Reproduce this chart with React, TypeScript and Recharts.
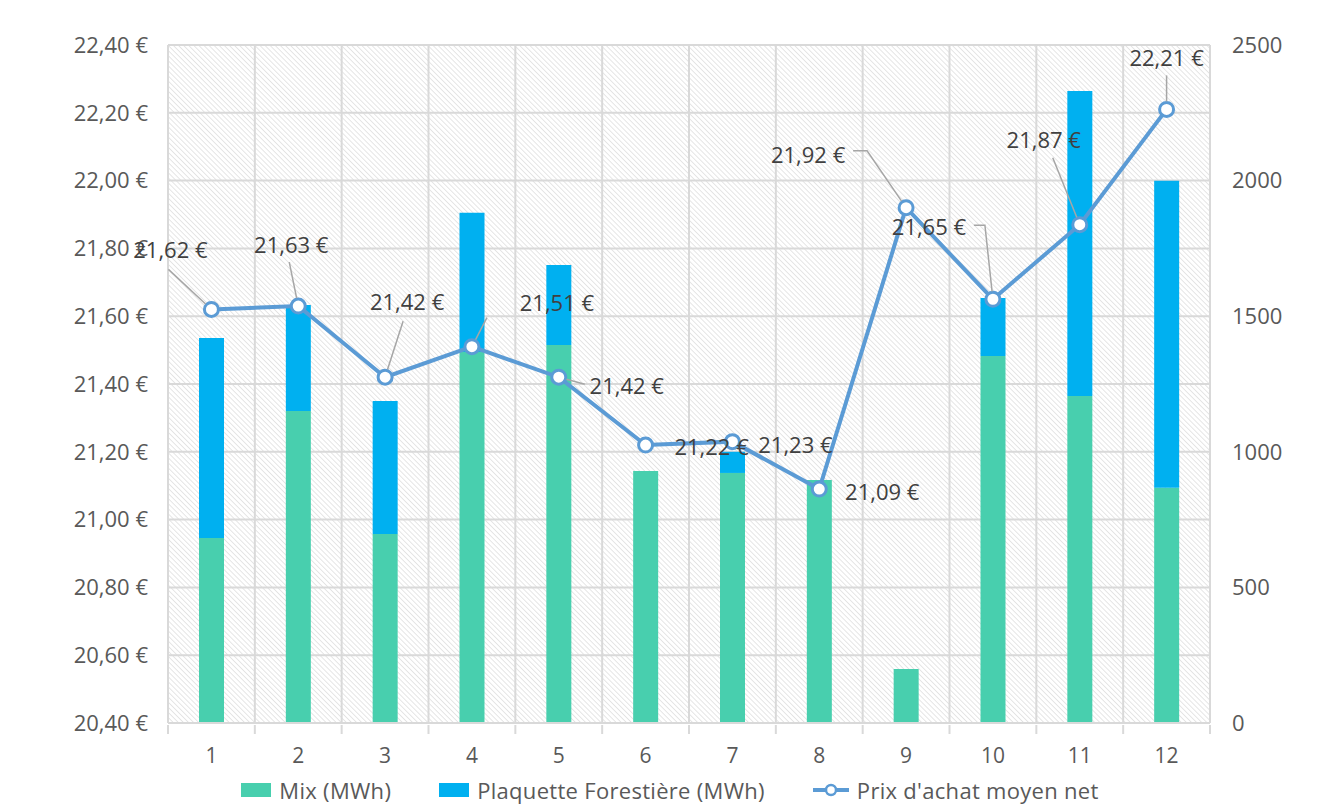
import React from "react";
import {
  ComposedChart,
  Bar,
  Line,
  XAxis,
  YAxis,
  CartesianGrid,
  Legend,
  LabelList,
} from "recharts";

const months = ["1", "2", "3", "4", "5", "6", "7", "8", "9", "10", "11", "12"];
const mix = [682, 1150, 697, 1368, 1394, 929, 922, 896, 199, 1353, 1206, 867];
const plaquette = [738, 391, 490, 513, 295, 0, 78, 0, 0, 214, 1124, 1132];
const prix = [21.62, 21.63, 21.42, 21.51, 21.42, 21.22, 21.23, 21.09, 21.92, 21.65, 21.87, 22.21];

const leftTicks = [20.4, 20.6, 20.8, 21.0, 21.2, 21.4, 21.6, 21.8, 22.0, 22.2, 22.4];
const rightTicks = [0, 500, 1000, 1500, 2000, 2500];

const data = months.map((m, i) => ({
  month: m,
  mix: mix[i],
  plaquette: plaquette[i],
  prix: prix[i],
}));

// label placement: text centre relative to the point, then leader points relative to text centre
const labelPos: [number, number][] = [
  [-41, -60], [-7, -62], [22, -76], [85, -45], [68, 8], [66, 1],
  [63, 2], [63, 2], [-98, -54], [-64, -73], [-36, -86], [0, -52],
];
const leaders: [number, number][][] = [
  [[-2, 20]], [[-2, 18]], [[-4, 20]], [[-70, 16]], [[-42, -1]], [],
  [], [], [[45, -3], [59, -3]], [[45, -1], [56, -1]], [[9, 19]], [[0, 18]],
];

const GREEN = "#48CFAE";
const BLUE = "#00B0F0";
const LINE = "#5B9BD5";
const GRID = "#d9d9d9";
const TEXT = "#595959";
const FONT = "'Open Sans', sans-serif";

const euro = (v: number) => v.toFixed(2).replace(".", ",") + " €";

const PriceLabel = (props: any) => {
  const { x, y, value, index } = props;
  const [dx, dy] = labelPos[index];
  const cx = x + dx;
  const cy = y + dy;
  const pts = leaders[index].map(([a, b]) => [cx + a, cy + b]);
  let path = "";
  if (pts.length) {
    const last = pts[pts.length - 1];
    const vx = x - last[0];
    const vy = y - last[1];
    const len = Math.sqrt(vx * vx + vy * vy) || 1;
    const ex = x - (vx / len) * 8;
    const ey = y - (vy / len) * 8;
    path = "M" + pts.map((p) => p[0] + "," + p[1]).join(" L") + ` L${ex},${ey}`;
  }
  return (
    <g>
      {path && <path d={path} stroke="#a6a6a6" strokeWidth={1.5} fill="none" />}
      <text
        x={cx}
        y={cy}
        textAnchor="middle"
        dominantBaseline="central"
        fill="#404040"
        fontSize={22}
        fontFamily={FONT}
      >
        {euro(value)}
      </text>
    </g>
  );
};

const MonthTick = (props: any) => {
  const { x, y, payload, index } = props;
  const half = 1042 / 12 / 2;
  return (
    <g>
      <line x1={x - half} y1={y} x2={x - half} y2={y + 9} stroke={GRID} strokeWidth={2} />
      {index === months.length - 1 && (
        <line x1={x + half} y1={y} x2={x + half} y2={y + 9} stroke={GRID} strokeWidth={2} />
      )}
      <text
        x={x}
        y={y + 30}
        textAnchor="middle"
        dominantBaseline="central"
        fill={TEXT}
        fontSize={21}
        fontFamily={FONT}
      >
        {payload.value}
      </text>
    </g>
  );
};

const LegendContent = () => {
  const item: React.CSSProperties = {
    display: "flex",
    alignItems: "center",
    gap: 8,
    color: TEXT,
    fontSize: 22,
    letterSpacing: 0.3,
    fontFamily: FONT,
  };
  return (
    <div
      style={{
        height: 40,
        display: "flex",
        justifyContent: "center",
        alignItems: "center",
        gap: 48,
        position: "relative",
        top: 4,
        left: 6,
      }}
    >
      <div style={item}>
        <span style={{ width: 30, height: 14, background: GREEN, display: "inline-block" }} />
        Mix (MWh)
      </div>
      <div style={item}>
        <span style={{ width: 30, height: 14, background: BLUE, display: "inline-block" }} />
        Plaquette Forestière (MWh)
      </div>
      <div style={item}>
        <svg width={36} height={16}>
          <line x1={0} y1={8} x2={36} y2={8} stroke={LINE} strokeWidth={4} />
          <circle cx={18} cy={8} r={5} fill="#fff" stroke={LINE} strokeWidth={2.5} />
        </svg>
        Prix d'achat moyen net
      </div>
    </div>
  );
};

export default function App() {
  return (
    <div
      style={{
        width: 1318,
        height: 808,
        border: "2px solid #d0d0d0",
        margin: "-2px 0 0 -2px",
        background: "#fff",
      }}
    >
      <ComposedChart
        width={1318}
        height={798}
        data={data}
        margin={{ top: 37, right: 16, bottom: 0, left: 10 }}
        barCategoryGap={0}
      >
        <defs>
          <pattern
            id="hatch"
            width={3.6}
            height={3.6}
            patternUnits="userSpaceOnUse"
            patternTransform="rotate(-45)"
          >
            <rect width={3.6} height={3.6} fill="#fff" />
            <line x1={0} y1={0} x2={0} y2={3.6} stroke="#d6d6d6" strokeWidth={1.2} />
          </pattern>
        </defs>
        <CartesianGrid
          yAxisId="left"
          stroke={GRID}
          strokeWidth={2}
          fill="url(#hatch)"
          fillOpacity={1}
          verticalCoordinatesGenerator={({ offset }: any) =>
            Array.from({ length: 13 }, (_, i) => offset.left + (i * offset.width) / 12)
          }
        />
        <XAxis
          dataKey="month"
          height={43}
          axisLine={{ stroke: GRID, strokeWidth: 2 }}
          tickLine={false}
          tickSize={0}
          tick={<MonthTick />}
          interval={0}
        />
        <YAxis
          yAxisId="left"
          width={150}
          domain={[20.4, 22.4]}
          ticks={leftTicks}
          tickFormatter={euro}
          axisLine={false}
          tickLine={false}
          tickSize={0}
          tickMargin={20}
          tick={{ fill: TEXT, fontSize: 22, fontFamily: FONT }}
          allowDataOverflow
        />
        <YAxis
          yAxisId="right"
          orientation="right"
          width={100}
          domain={[0, 2500]}
          ticks={rightTicks}
          axisLine={false}
          tickLine={false}
          tickSize={0}
          tickMargin={22}
          tick={{ fill: TEXT, fontSize: 22, fontFamily: FONT, textAnchor: "start" }}
        />
        <Legend verticalAlign="bottom" content={<LegendContent />} />
        <Bar
          yAxisId="right"
          dataKey="mix"
          stackId="a"
          fill={GREEN}
          barSize={25}
          isAnimationActive={false}
          name="Mix (MWh)"
        />
        <Bar
          yAxisId="right"
          dataKey="plaquette"
          stackId="a"
          fill={BLUE}
          barSize={25}
          isAnimationActive={false}
          name="Plaquette Forestière (MWh)"
        />
        <Line
          yAxisId="left"
          dataKey="prix"
          stroke={LINE}
          strokeWidth={4}
          dot={{ r: 7, fill: "#fff", stroke: LINE, strokeWidth: 3 }}
          activeDot={false}
          isAnimationActive={false}
          name="Prix d'achat moyen net"
        >
          <LabelList dataKey="prix" content={<PriceLabel />} />
        </Line>
      </ComposedChart>
    </div>
  );
}
